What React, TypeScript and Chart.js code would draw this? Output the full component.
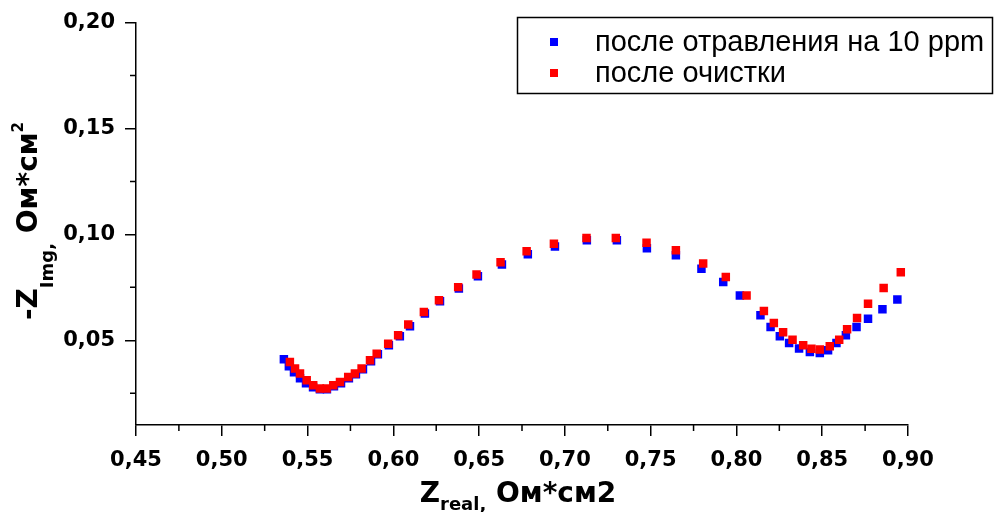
import React, { useEffect, useRef } from 'react';
import { Chart, registerables } from 'chart.js';

Chart.register(...registerables);

// ---- data ----
const seriesLabels = ['после отравления на 10 ppm', 'после очистки'];
const seriesColors = ['#0000ff', '#ff0000'];

// blue: after poisoning (Z_real, -Z_img)
const poisonedX = [
  0.5362, 0.5391, 0.5421, 0.5456, 0.5491, 0.5532, 0.5572, 0.5613, 0.5654, 0.5695,
  0.5741, 0.5782, 0.5823, 0.5870, 0.5910, 0.5974, 0.6038, 0.6097,
  0.6184, 0.6272, 0.6382, 0.6493, 0.6633, 0.6784, 0.6942, 0.7128, 0.7303, 0.7478,
  0.7647, 0.7796, 0.7923, 0.8020, 0.8140, 0.8199, 0.8253, 0.8307, 0.8365, 0.8428,
  0.8486, 0.8534, 0.8583, 0.8638, 0.8700, 0.8767, 0.8851, 0.8938,
];
const poisonedY = [
  0.0410, 0.0377, 0.0349, 0.0321, 0.0297, 0.0278, 0.0269, 0.0269, 0.0283, 0.0297,
  0.0321, 0.0340, 0.0363, 0.0401, 0.0434, 0.0476, 0.0519, 0.0566,
  0.0627, 0.0684, 0.0745, 0.0802, 0.0858, 0.0906, 0.0943, 0.0972, 0.0972, 0.0935,
  0.0901, 0.0838, 0.0775, 0.0712, 0.0618, 0.0563, 0.0519, 0.0487, 0.0461, 0.0445,
  0.0440, 0.0453, 0.0487, 0.0524, 0.0563, 0.0602, 0.0646, 0.0693,
];

// red: after cleaning
const cleanedX = [
  0.5397, 0.5427, 0.5456, 0.5495, 0.5533, 0.5572, 0.5611, 0.5650, 0.5689, 0.5737,
  0.5776, 0.5815, 0.5864, 0.5903, 0.5970, 0.6028, 0.6087,
  0.6178, 0.6266, 0.6378, 0.6485, 0.6625, 0.6777, 0.6936, 0.7126, 0.7297, 0.7476,
  0.7647, 0.7806, 0.7938, 0.8059, 0.8160, 0.8218, 0.8272, 0.8327, 0.8389, 0.8437,
  0.8486, 0.8544, 0.8599, 0.8645, 0.8703, 0.8767, 0.8858, 0.8958,
];
const cleanedY = [
  0.0398, 0.0367, 0.0343, 0.0311, 0.0288, 0.0272, 0.0272, 0.0288, 0.0303, 0.0327,
  0.0343, 0.0367, 0.0406, 0.0437, 0.0484, 0.0524, 0.0575,
  0.0633, 0.0689, 0.0751, 0.0811, 0.0869, 0.0920, 0.0956, 0.0983, 0.0983, 0.0961,
  0.0925, 0.0862, 0.0799, 0.0712, 0.0638, 0.0582, 0.0538, 0.0503, 0.0476, 0.0460,
  0.0456, 0.0472, 0.0503, 0.0552, 0.0605, 0.0673, 0.0747, 0.0821,
];

const xTicks = [0.45, 0.5, 0.55, 0.6, 0.65, 0.7, 0.75, 0.8, 0.85, 0.9];
const xMinorTicks = [0.475, 0.525, 0.575, 0.625, 0.675, 0.725, 0.775, 0.825, 0.875];
const yTicks = [0.05, 0.1, 0.15, 0.2];
const yMinorTicks = [0.025, 0.075, 0.125, 0.175];

const xTitleParts = [
  { t: 'Z', s: 28, dy: 0 },
  { t: 'real,', s: 18, dy: 8 },
  { t: ' Ом*см2', s: 28, dy: 0 },
];
const yTitleParts = [
  { t: '-Z', s: 28, dy: 0 },
  { t: 'Img,', s: 18, dy: 16 },
  { t: ' Ом*см', s: 28, dy: 0 },
  { t: '2', s: 15, dy: -14 },
];

const fmt = (v: number) => Number(v).toFixed(2).replace('.', ',');
const TICK_FONT = { family: 'DejaVu Sans', weight: 'bold' as const, size: 21 };

function drawRich(ctx: CanvasRenderingContext2D, parts: { t: string; s: number; dy: number }[]) {
  let total = 0;
  const widths = parts.map((p) => {
    ctx.font = `bold ${p.s}px "DejaVu Sans"`;
    const w = ctx.measureText(p.t).width;
    total += w;
    return w;
  });
  let x = -total / 2;
  parts.forEach((p, i) => {
    ctx.font = `bold ${p.s}px "DejaVu Sans"`;
    ctx.fillText(p.t, x, p.dy);
    x += widths[i];
  });
}

const decorPlugin = {
  id: 'decor',
  afterDraw(chart: any) {
    const ctx: CanvasRenderingContext2D = chart.ctx;
    const { left, bottom } = chart.chartArea;
    const xs = chart.scales.x;
    const ys = chart.scales.y;
    ctx.save();
    // minor ticks
    ctx.strokeStyle = '#000';
    ctx.lineWidth = 1.5;
    ctx.beginPath();
    xMinorTicks.forEach((v) => {
      const px = xs.getPixelForValue(v);
      ctx.moveTo(px, bottom);
      ctx.lineTo(px, bottom + 6);
    });
    yMinorTicks.forEach((v) => {
      const py = ys.getPixelForValue(v);
      ctx.moveTo(left, py);
      ctx.lineTo(left - 6, py);
    });
    ctx.stroke();

    // axis titles
    ctx.fillStyle = '#000';
    ctx.textBaseline = 'alphabetic';
    ctx.textAlign = 'left';
    ctx.save();
    ctx.translate(518, 502);
    drawRich(ctx, xTitleParts);
    ctx.restore();

    ctx.save();
    ctx.translate(37, 221);
    ctx.rotate(-Math.PI / 2);
    drawRich(ctx, yTitleParts);
    ctx.restore();

    // legend box
    ctx.lineWidth = 1.5;
    ctx.strokeStyle = '#000';
    ctx.strokeRect(517.5, 17.5, 475, 76);
    const rows = [42, 73];
    ctx.font = '29px "Liberation Sans", Arial, sans-serif';
    seriesLabels.forEach((lab, i) => {
      ctx.fillStyle = seriesColors[i];
      ctx.fillRect(550, rows[i] - 4, 8, 8);
      ctx.fillStyle = '#000';
      ctx.fillText(lab, 595, rows[i] + 9);
    });
    ctx.restore();
  },
};

export default function App() {
  const ref = useRef<HTMLCanvasElement>(null);
  useEffect(() => {
    document.body.style.margin = '0';
    const makePts = (xs: number[], ys: number[]) => xs.map((x, i) => ({ x, y: ys[i] }));
    const chart = new Chart(ref.current as HTMLCanvasElement, {
      type: 'scatter',
      data: {
        datasets: [
          {
            label: seriesLabels[0],
            data: makePts(poisonedX, poisonedY),
            pointStyle: 'rect',
            pointRadius: 6,
            pointBorderWidth: 0,
            backgroundColor: seriesColors[0],
            borderColor: seriesColors[0],
            order: 2,
          },
          {
            label: seriesLabels[1],
            data: makePts(cleanedX, cleanedY),
            pointStyle: 'rect',
            pointRadius: 6,
            pointBorderWidth: 0,
            backgroundColor: seriesColors[1],
            borderColor: seriesColors[1],
            order: 1,
          },
        ],
      },
      options: {
        animation: false,
        responsive: true,
        maintainAspectRatio: false,
        layout: { padding: { top: 22, right: 89, left: 0, bottom: 0 } },
        plugins: { legend: { display: false }, tooltip: { enabled: false } },
        scales: {
          x: {
            type: 'linear',
            min: 0.45,
            max: 0.9,
            afterBuildTicks: (s: any) => {
              s.ticks = xTicks.map((v) => ({ value: v }));
            },
            afterFit: (s: any) => {
              s.height = 87;
            },
            ticks: {
              callback: (v: any) => fmt(v),
              font: TICK_FONT,
              color: '#000',
              padding: 12,
              maxRotation: 0,
              autoSkip: false,
            },
            grid: { drawOnChartArea: false, tickLength: 11, color: '#000', lineWidth: 1.5 },
            border: { color: '#000', width: 1.5 },
          },
          y: {
            type: 'linear',
            min: 0.01,
            max: 0.2,
            afterBuildTicks: (s: any) => {
              s.ticks = yTicks.map((v) => ({ value: v }));
            },
            afterFit: (s: any) => {
              s.width = 136;
            },
            ticks: {
              callback: (v: any) => fmt(v),
              font: TICK_FONT,
              color: '#000',
              padding: 10,
              autoSkip: false,
            },
            grid: { drawOnChartArea: false, tickLength: 11, color: '#000', lineWidth: 1.5 },
            border: { color: '#000', width: 1.5 },
          },
        },
      },
      plugins: [decorPlugin],
    });
    return () => chart.destroy();
  }, []);
  return (
    <div style={{ width: 997, height: 512, position: 'relative' }}>
      <canvas ref={ref} />
    </div>
  );
}
